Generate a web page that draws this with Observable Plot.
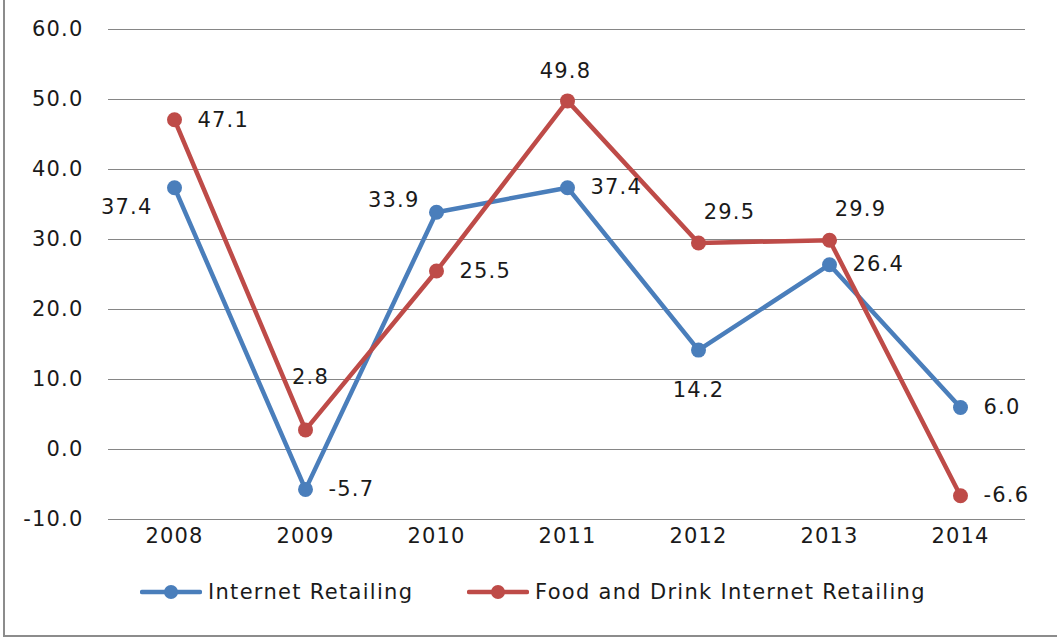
<!DOCTYPE html>
<html><head><meta charset="utf-8">
<script src="https://cdn.jsdelivr.net/npm/d3@7"></script>
<script src="https://cdn.jsdelivr.net/npm/@observablehq/plot@0.6"></script>
<style>
body{margin:0;background:#fff;}
#frame{position:relative;width:1057px;height:638px;overflow:hidden;background:#fff;}
#border{position:absolute;left:3px;top:0;width:1054px;height:637px;border-left:2px solid #8c8c8c;border-bottom:2px solid #8c8c8c;box-sizing:border-box;pointer-events:none}
#chart{position:absolute;left:0;top:0}
#legend{position:absolute;top:577px;left:0;width:1057px;height:30px;font-family:"DejaVu Sans",sans-serif;font-size:21px;letter-spacing:1.3px;color:#1a1a1a}
.item{position:absolute;display:flex;align-items:center;top:0;height:30px;white-space:nowrap}
.item svg{margin-right:6px}
</style>
</head><body>
<div id="frame"><div id="chart"></div><div id="legend"></div><div id="border"></div></div>
<script>
const years = ["2008","2009","2010","2011","2012","2013","2014"];
const seriesNames = ["Internet Retailing","Food and Drink Internet Retailing"];
const internetRetailing = [37.4,-5.7,33.9,37.4,14.2,26.4,6.0];
const foodDrinkRetailing = [47.1,2.8,25.5,49.8,29.5,29.9,-6.6];
const internetLabelPos = ["leftBelow","right","leftAbove","right","below","right","right"];
const foodLabelPos = ["right","aboveFar","right","above","aboveRight","aboveRight","right"];
const yTicks = [-10,0,10,20,30,40,50,60];
const colors = ["#4a7ebb","#be4b48"];

const placement = {
  right:{anchor:"start",dx:23,dy:0},
  leftBelow:{anchor:"end",dx:-22,dy:20},
  leftAbove:{anchor:"end",dx:-17,dy:-12},
  above:{anchor:"middle",dx:-2,dy:-30},
  aboveRight:{anchor:"middle",dx:31,dy:-31},
  aboveFar:{anchor:"middle",dx:5,dy:-53},
  below:{anchor:"middle",dx:0,dy:40}
};

const rows = [];
[[internetRetailing,internetLabelPos],[foodDrinkRetailing,foodLabelPos]].forEach(([vals,pos],s)=>{
  vals.forEach((v,i)=>rows.push({year:years[i],value:v,series:seriesNames[s],pos:pos[i]}));
});

const font = '"DejaVu Sans", sans-serif';
const ink = "#1a1a1a";
const marks = [
  Plot.ruleY(yTicks,{stroke:"#868686",strokeWidth:1.2,strokeOpacity:1})
];
seriesNames.forEach((name,s)=>{
  const d = rows.filter(r=>r.series===name);
  marks.push(Plot.line(d,{x:"year",y:"value",stroke:colors[s],strokeWidth:4.5,strokeLinejoin:"round",strokeLinecap:"round"}));
  marks.push(Plot.dot(d,{x:"year",y:"value",fill:colors[s],r:7.5,stroke:"none"}));
});
seriesNames.forEach((name,s)=>{
  const d = rows.filter(r=>r.series===name);
  Object.entries(placement).forEach(([key,p])=>{
    const dd = d.filter(r=>r.pos===key);
    if(dd.length) marks.push(Plot.text(dd,{x:"year",y:"value",text:r=>r.value.toFixed(1),textAnchor:p.anchor,dx:p.dx,dy:p.dy,fill:ink,fontSize:21}));
  });
});
marks.push(Plot.axisY(yTicks,{tickSize:0,tickPadding:25,tickFormat:d=>d.toFixed(1),fontSize:21,fill:ink}));
marks.push(Plot.axisX({tickSize:0,tickPadding:9,fontSize:21,fill:ink}));

const chart = Plot.plot({
  width:1057,height:560,
  marginLeft:108,marginRight:32,marginTop:29,marginBottom:41,
  style:{fontFamily:font,fontSize:"21px",letterSpacing:"1.2px",background:"transparent",color:ink},
  x:{type:"point",domain:years,padding:0.5,label:null},
  y:{domain:[-10,60],label:null},
  marks
});
document.getElementById("chart").appendChild(chart);

const legend = document.getElementById("legend");
const lefts = [140,467];
seriesNames.forEach((name,s)=>{
  const it = document.createElement("div");
  it.className="item"; it.style.left=lefts[s]+"px";
  it.innerHTML = `<svg width="62" height="30"><line x1="2" y1="15" x2="60" y2="15" stroke="${colors[s]}" stroke-width="4.5" stroke-linecap="round"/><circle cx="31" cy="15" r="7" fill="${colors[s]}"/></svg><span>${name}</span>`;
  legend.appendChild(it);
});
</script>
</body></html>
